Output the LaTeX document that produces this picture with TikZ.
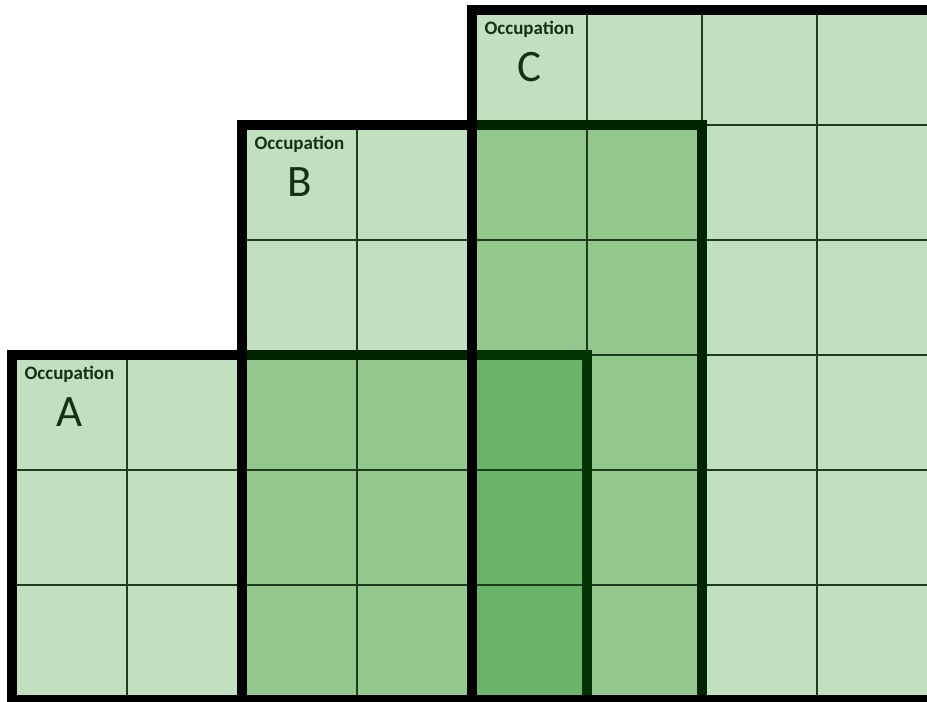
\documentclass[tikz,border=0pt]{standalone}
\usepackage{fontspec}
\setmainfont{Carlito}
\usepackage{tikz}
\usetikzlibrary{calc}
\definecolor{cellpale}{HTML}{C1E0C0}
\definecolor{cellmid}{HTML}{93C78E}
\definecolor{celldeep}{HTML}{6BB56A}
\definecolor{gridgreen}{HTML}{1D3B1D}
\definecolor{edgeonce}{HTML}{002400}
\definecolor{edgetwice}{HTML}{003300}
\definecolor{occtext}{HTML}{123212}
\tikzset{
  gridline/.style={draw=gridgreen, line width=0.02cm, xstep=1.15cm, ystep=1.15cm},
  occborder/.style={draw=black, line width=0.1cm},
  tintonce/.style={draw=edgeonce, line width=0.1cm, shorten <=0.05cm, shorten >=0.05cm},
  tinttwice/.style={draw=edgetwice, line width=0.1cm, shorten <=0.05cm, shorten >=0.05cm},
  occword/.style={font=\bfseries\fontsize{5.4pt}{6pt}\selectfont, text=occtext, inner sep=0pt, anchor=base},
  occletter/.style={font=\fontsize{12.8pt}{14pt}\selectfont, text=occtext, inner sep=0pt, anchor=base}
}

\begin{document}
\begin{tikzpicture}[x=1.15cm, y=1.15cm]
  \useasboundingbox (-0.1043,-0.0174) rectangle (7.9565,6.0870);
  \clip (-0.1043,-0.0174) rectangle (7.9565,6.0870);
  % cells
  \fill[cellpale] (0,0) rectangle (5,3) (2,0) rectangle (6,5) (4,0) rectangle (8,6);
  \fill[cellmid] (2,0) rectangle (4,3) (4,3) rectangle (6,5) (5,0) rectangle (6,3);
  \fill[celldeep] (4,0) rectangle (5,3);
  \draw[gridline] (0,0) grid (2,3) (2,0) grid (4,5) (4,0) grid (8,6);
  % occupation frames, A under B under C
  \draw[occborder] (0,0) rectangle (5,3);
  \draw[occborder] (2,0) rectangle (6,5);
  \draw[occborder] (4,0) rectangle (8,6);
  \draw[tintonce] (2,3) -- (4,3);
  \draw[tinttwice] (4,3) -| (5,0);
  \draw[tintonce] (4,5) -| (6,0);
  % labels
  \foreach \nm/\cx/\cy in {A/0/2, B/2/4, C/4/5}{
    \node[occword] (word\nm) at (\cx+0.5,\cy+0.783) {Occupation};
    \node[occletter] (letter\nm) at (\cx+0.5,\cy+0.374) {\nm};
  }
\end{tikzpicture}
\end{document}
